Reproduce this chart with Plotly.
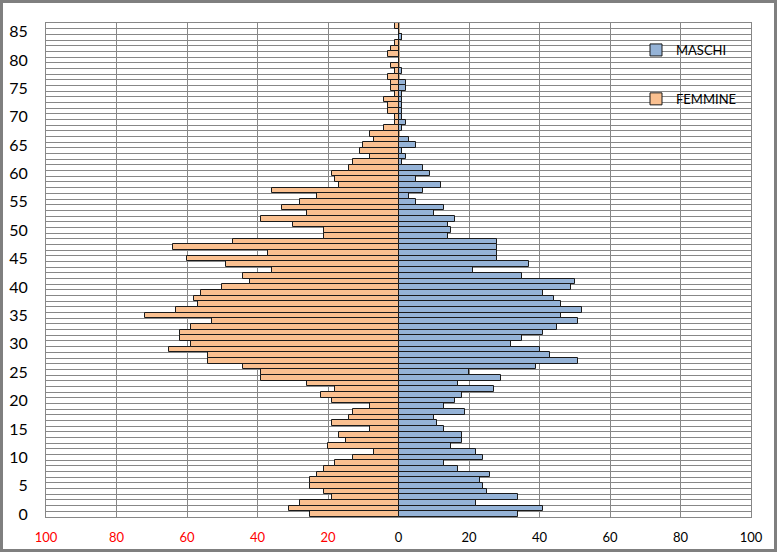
import plotly.graph_objects as go

ages = list(range(0, 87))

femmine = [25, 31, 28, 19, 21, 25, 25, 23, 21, 18,
           13, 7, 20, 15, 17, 8, 19, 14, 13, 8,
           19, 22, 18, 26, 39, 39, 44, 54, 54, 65,
           59, 62, 62, 59, 53, 72, 63, 57, 58, 56,
           50, 42, 44, 36, 49, 60, 37, 64, 47, 21,
           21, 30, 39, 26, 33, 28, 23, 36, 17, 18,
           19, 14, 13, 8, 11, 10, 7, 8, 4, 1,
           1, 3, 3, 4, 1, 2, 2, 3, 1, 2,
           0, 3, 2, 1, 0, 0, 1]

maschi = [34, 41, 22, 34, 25, 24, 23, 26, 17, 13,
          24, 22, 15, 18, 18, 13, 11, 10, 19, 13,
          16, 18, 27, 17, 29, 20, 39, 51, 43, 40,
          32, 35, 41, 45, 51, 46, 52, 46, 44, 41,
          49, 50, 35, 21, 37, 28, 28, 28, 28, 14,
          15, 14, 16, 10, 13, 5, 3, 7, 12, 5,
          9, 7, 1, 2, 1, 5, 3, 0, 1, 2,
          1, 1, 1, 1, 1, 2, 2, 0, 1, 0,
          0, 0, 0, 0, 1, 0, 0]

x_tickvals = [-100, -80, -60, -40, -20, 0, 20, 40, 60, 80, 100]
x_ticktext = ["<span style='color:#FF0000'>100</span>",
              "<span style='color:#FF0000'>80</span>",
              "<span style='color:#FF0000'>60</span>",
              "<span style='color:#FF0000'>40</span>",
              "<span style='color:#FF0000'>20</span>",
              "0", "20", "40", "60", "80", "100"]
y_tickvals = list(range(0, 86, 5))

ML, MR, MT, MB = 46, 26, 23, 35
W, H = 777, 552
PW, PH = W - ML - MR, H - MT - MB

fig = go.Figure()
fig.add_trace(go.Bar(
    y=ages, x=maschi, orientation="h", name="MASCHI",
    legendgroup="m", legendrank=1,
    marker=dict(color="#95B3D7", line=dict(color="#1a1a1a", width=1)),
))
fig.add_trace(go.Bar(
    y=ages, x=[-v for v in femmine], orientation="h", name="FEMMINE",
    legendgroup="f", legendrank=2,
    marker=dict(color="#FAC090", line=dict(color="#1a1a1a", width=1)),
))

fig.update_layout(
    width=W, height=H,
    margin=dict(l=ML, r=MR, t=MT, b=MB, autoexpand=False),
    paper_bgcolor="white", plot_bgcolor="white",
    barmode="relative", bargap=0,
    font=dict(family="Lato, 'Liberation Sans', sans-serif", color="#000000"),
    legend=dict(
        x=(636 - ML) / PW, y=1 - (35 - MT) / PH,
        xanchor="left", yanchor="top",
        bgcolor="rgba(0,0,0,0)",
        font=dict(size=13, color="#000000"),
        traceorder="grouped", tracegroupgap=29,
        itemwidth=30,
    ),
    xaxis=dict(
        range=[-100, 100], tickmode="array",
        tickvals=x_tickvals, ticktext=x_ticktext,
        showgrid=True, gridcolor="#878787", gridwidth=1,
        zeroline=True, zerolinecolor="#BFA58A", zerolinewidth=2,
        showline=True, linecolor="#878787", linewidth=1, mirror=True,
        ticks="", ticklabelstandoff=8, automargin=False,
        tickfont=dict(size=13),
    ),
    yaxis=dict(
        range=[-0.5, 86.5], tickmode="array", tickvals=y_tickvals,
        showgrid=False, zeroline=False,
        showline=True, linecolor="#878787", linewidth=1, mirror=True,
        minor=dict(tick0=0.5, dtick=1, showgrid=True,
                   gridcolor="#878787", gridwidth=1, ticks=""),
        ticks="", ticklabelstandoff=14, automargin=False,
        tickfont=dict(size=16),
    ),
    shapes=[dict(
        type="rect", xref="paper", yref="paper",
        x0=(1.5 - ML) / PW, x1=(W - 1.5 - ML) / PW,
        y0=-(H - 1.5 - MT - PH) / PH, y1=1 + (MT - 1.5) / PH,
        line=dict(color="#7F7F7F", width=3), fillcolor="rgba(0,0,0,0)",
        layer="above",
    )],
)

fig.write_html(
    "out.html",
    config={"displayModeBar": False},
    post_script="document.body.style.margin='0';document.body.style.overflow='hidden';",
)
